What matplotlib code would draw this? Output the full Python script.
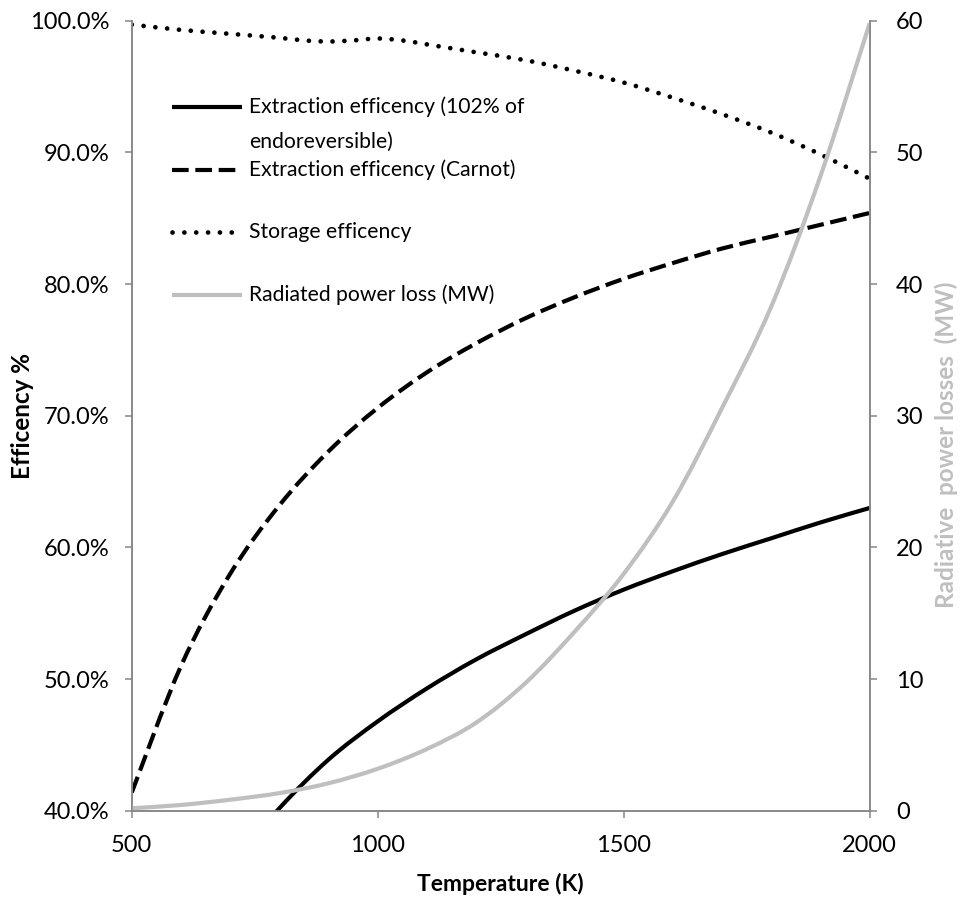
import numpy as np
import matplotlib
matplotlib.use('Agg')
import matplotlib.pyplot as plt
from matplotlib.path import Path
from matplotlib.patches import PathPatch
from matplotlib.ticker import FuncFormatter

plt.rcParams['font.family'] = ['Lato', 'DejaVu Sans']

# temperature grid (K)
temps = [500, 600, 700, 800, 900, 1000, 1100, 1200, 1300, 1400,
         1500, 1600, 1700, 1800, 1900, 2000]

# extraction efficiency, Carnot (%)
carnot = [41.4, 51.0, 58.0, 63.2, 67.3, 70.6, 73.3, 75.5, 77.4, 79.0,
          80.4, 81.6, 82.7, 83.6, 84.5, 85.4]

# extraction efficiency, 102% of endoreversible (%)
endo_temps = [700, 800, 900, 1000, 1100, 1200, 1300, 1400,
              1500, 1600, 1700, 1800, 1900, 2000]
endo = [35.8, 40.2, 43.9, 46.8, 49.3, 51.5, 53.4, 55.2,
        56.8, 58.2, 59.5, 60.7, 61.9, 63.0]

# storage efficiency (%)
storage_temps = [500, 600, 700, 800, 850, 900, 950, 1000, 1050, 1100, 1150,
                 1200, 1300, 1400, 1500, 1600, 1700, 1800, 1900, 2000]
storage = [99.7, 99.3, 99.0, 98.7, 98.5, 98.42, 98.5, 98.65, 98.5, 98.2, 97.9,
           97.6, 97.0, 96.2, 95.3, 94.15, 92.9, 91.5, 89.85, 88.0]

# radiated power loss (MW)
radiated = [0.2, 0.45, 0.85, 1.35, 2.1, 3.2, 4.7, 6.7, 9.7, 13.6,
            18.0, 23.5, 30.6, 38.3, 48.2, 59.8]

GREY = '#BFBFBF'
SPINE = '#868686'
DASHED = (0, (4.0, 1.6))
DOTTED = (0, (0.01, 2.5))


def smooth_path(x, y):
    # Excel-style smoothed line: cubic bezier through every data point
    x = np.asarray(x, float)
    y = np.asarray(y, float)
    px = np.concatenate([[x[0]], x, [x[-1]]])
    py = np.concatenate([[y[0]], y, [y[-1]]])
    verts = [(x[0], y[0])]
    codes = [Path.MOVETO]
    for i in range(1, len(x)):
        c1 = (px[i] + (px[i + 1] - px[i - 1]) / 6, py[i] + (py[i + 1] - py[i - 1]) / 6)
        c2 = (px[i + 1] - (px[i + 2] - px[i]) / 6, py[i + 1] - (py[i + 2] - py[i]) / 6)
        verts += [c1, c2, (px[i + 1], py[i + 1])]
        codes += [Path.CURVE4] * 3
    return Path(verts, codes)


def draw_series(a, x, y, color, ls, cap='butt', lw=3.0):
    patch = PathPatch(smooth_path(x, y), fill=False, edgecolor=color, lw=lw,
                      linestyle=ls, capstyle=cap, joinstyle='round')
    a.add_patch(patch)


fig = plt.figure(figsize=(9.62, 8.99), dpi=100)
ax = fig.add_axes([0.137, 0.098, 0.767, 0.879])
ax2 = ax.twinx()

draw_series(ax, endo_temps, endo, 'black', '-')
draw_series(ax, temps, carnot, 'black', DASHED)
draw_series(ax, storage_temps, storage, 'black', DOTTED, cap='round', lw=3.4)
draw_series(ax2, temps, radiated, GREY, '-')

ax.set_xlim(500, 2000)
ax.set_ylim(40, 100)
ax2.set_ylim(0, 60)
ax.set_xticks([500, 1000, 1500, 2000])
ax.set_yticks(np.arange(40, 101, 10))
ax2.set_yticks(np.arange(0, 61, 10))
ax.yaxis.set_major_formatter(FuncFormatter(lambda v, p: f'{v:.1f}%'))

for a in (ax, ax2):
    a.spines['top'].set_visible(False)
    for s in ('left', 'right', 'bottom'):
        a.spines[s].set_color(SPINE)
        a.spines[s].set_linewidth(1.1)
    a.tick_params(colors=SPINE, labelcolor='black', labelsize=17, length=5, width=1.1)
ax.tick_params(axis='y', pad=11)
ax.tick_params(axis='x', pad=12)
ax2.tick_params(axis='y', pad=14)

ax.set_xlabel('Temperature (K)', fontsize=16.5, fontweight='bold')
ax.xaxis.set_label_coords(0.5, -0.078)
ax.set_ylabel('Efficency %', fontsize=17.5, fontweight='bold')
ax.yaxis.set_label_coords(-0.132, 0.5)
ax2.set_ylabel('Radiative  power losses  (MW)', fontsize=17.5, fontweight='bold', color=GREY)
ax2.yaxis.set_label_coords(1.088, 0.463)

# legend laid out like the original (handle level with first text line)
entries = [
    ('black', '-', 'butt', 3.0, ['Extraction efficency (102% of', 'endoreversible)'], 0.8906),
    ('black', DASHED, 'butt', 3.0, ['Extraction efficency (Carnot)'], 0.8109),
    ('black', DOTTED, 'round', 3.4, ['Storage efficency'], 0.7324),
    (GREY, '-', 'butt', 3.0, ['Radiated power loss (MW)'], 0.6527),
]
for color, ls, cap, lw, lines, yy in entries:
    ax.plot([0.054, 0.150], [yy, yy], transform=ax.transAxes, color=color,
            lw=lw, linestyle=ls, dash_capstyle=cap, solid_capstyle='butt', clip_on=False)
    for k, txt in enumerate(lines):
        ax.text(0.159, yy - k * 0.0435, txt, transform=ax.transAxes, fontsize=15.2,
                va='center', ha='left')

fig.savefig('out.png', dpi=100)
